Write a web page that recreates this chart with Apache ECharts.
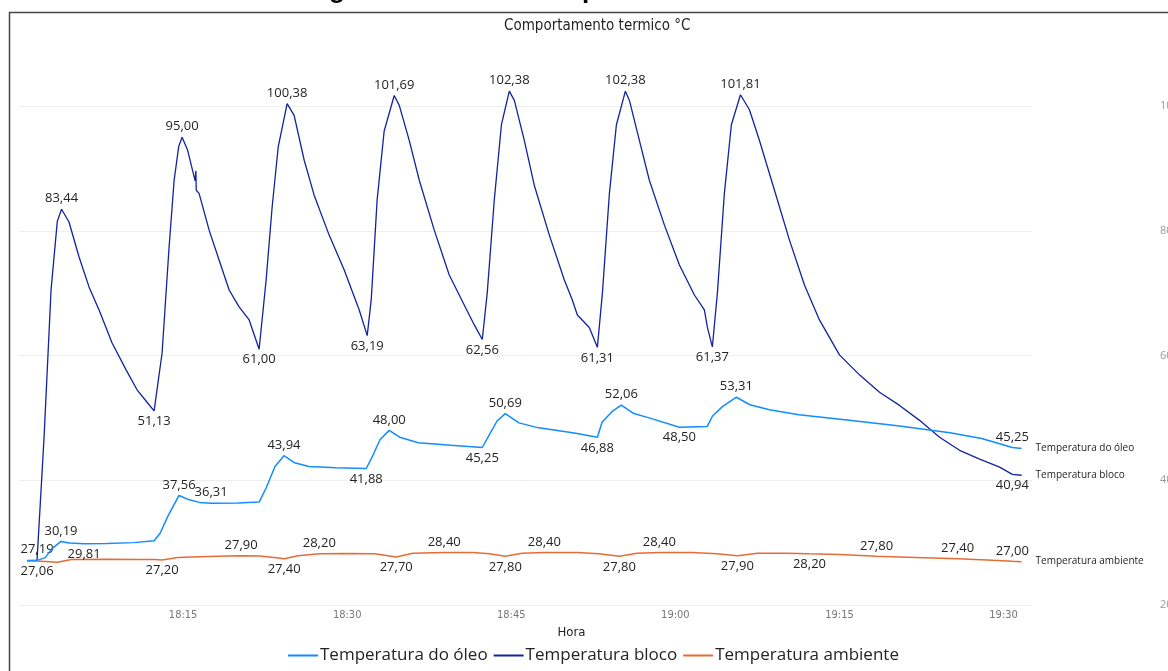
<!DOCTYPE html>
<html>
<head>
<meta charset="utf-8">
<script src="https://cdn.jsdelivr.net/npm/echarts@6/dist/echarts.min.js"></script>
<style>
html,body{margin:0;padding:0;background:#fff;overflow:hidden;}
#chart{width:1168px;height:671px;}
</style>
</head>
<body>
<div id="chart"></div>
<script>
// minutes after 18:00
const xTicks = ['18:15','18:30','18:45','19:00','19:15','19:30'];

const seriesNames = ['Temperatura do óleo', 'Temperatura bloco', 'Temperatura ambiente'];

const oleoTime  = [0.73,1.65,2.4,3.0,3.84,4.6,5.95,8.0,10.5,12.35,12.9,13.6,14.63,15.5,16.5,17.56,20.0,21.95,22.6,23.4,24.22,25.2,26.5,29.0,31.74,32.3,33.0,33.84,34.8,36.5,39.5,42.35,43.0,43.7,44.45,45.7,47.5,50.3,51.0,52.87,53.3,54.2,55.06,56.2,57.6,60.37,62.9,63.4,64.3,65.58,66.8,68.6,71.3,75.9,80.5,85.1,88.0,90.8,91.65];
const oleoValue = [27.1,27.15,27.6,29.0,30.19,29.95,29.81,29.85,30.0,30.3,31.5,34.2,37.56,36.9,36.45,36.31,36.35,36.5,38.8,42.2,43.94,42.8,42.2,42.0,41.88,43.8,46.5,48.00,46.9,46.0,45.6,45.25,47.3,49.5,50.69,49.2,48.4,47.7,47.5,46.88,49.3,51.0,52.06,50.7,50.0,48.50,48.6,50.3,51.8,53.31,52.1,51.3,50.5,49.6,48.7,47.6,46.7,45.25,45.1];
const oleoLabelTop    = [3.84,14.63,17.56,24.22,33.84,44.45,55.06,65.58,90.8];
const oleoLabelBottom = [5.95,31.74,42.35,52.87,60.37];

const blocoTime  = [0.73,1.65,2.29,2.93,3.5,3.89,4.57,5.49,6.40,7.32,8.51,9.79,10.79,11.8,12.35,13.08,13.72,14.18,14.6,14.91,15.4,16.1,16.17,16.2,16.46,17.38,18.29,19.21,20.12,21.04,21.95,22.59,23.14,23.7,24.51,25.15,26.07,26.98,28.35,29.73,31.1,31.83,32.2,32.74,33.38,34.3,34.76,35.67,36.59,37.96,39.33,40.7,41.62,42.35,42.8,43.45,44.1,44.82,45.28,46.19,47.1,48.48,49.85,50.58,51.04,52.13,52.87,53.33,53.97,54.61,55.43,55.8,56.71,57.62,59.0,60.37,61.74,62.65,62.93,63.38,63.84,64.48,65.12,65.95,66.77,67.68,69.06,70.43,71.8,73.17,75.0,76.83,78.66,80.49,82.32,84.15,85.98,87.81,89.64,90.8,91.65];
const blocoValue = [27.1,27.19,46.8,70.5,81.5,83.44,81.4,75.8,71.0,67.3,62.0,57.7,54.5,52.3,51.13,60.4,77.4,88.1,93.5,95.00,93.0,88.0,89.6,86.5,86.0,80.1,75.3,70.5,67.8,65.7,61.00,72.1,83.8,93.5,100.38,98.5,91.3,85.7,79.3,73.7,67.3,63.19,69.0,85.0,96.0,101.69,100.1,94.5,88.1,80.1,72.9,68.1,64.9,62.56,70.0,85.0,97.0,102.38,100.9,94.5,87.3,79.3,72.1,68.9,66.5,64.5,61.31,70.0,86.0,97.0,102.38,100.9,94.5,88.1,80.9,74.5,69.7,67.3,64.5,61.37,70.0,86.0,97.0,101.81,99.4,94.5,86.5,78.5,71.3,65.7,60.1,56.9,54.1,52.0,49.6,46.9,44.8,43.4,42.1,40.94,40.8];
const blocoLabelTop    = [1.65,3.89,14.91,24.51,34.3,44.82,55.43,65.95];
const blocoLabelBottom = [12.35,21.95,31.83,42.35,52.87,63.38,90.8];

const ambTime  = [0.73,1.65,3.5,4.8,8.0,11.0,12.4,13.08,14.5,16.5,19.0,20.3,22.0,23.3,24.24,25.5,27.45,30.0,32.5,34.48,36.0,38.87,41.5,43.0,44.45,46.0,48.02,51.0,53.0,54.88,56.5,58.54,61.5,63.8,65.67,67.5,70.0,72.26,75.0,78.39,82.0,85.8,88.5,90.8,91.65];
const ambValue = [27.15,27.06,26.85,27.3,27.35,27.3,27.3,27.20,27.6,27.75,27.85,27.90,27.85,27.6,27.40,27.9,28.20,28.25,28.2,27.70,28.3,28.40,28.4,28.2,27.80,28.3,28.40,28.4,28.2,27.80,28.3,28.40,28.4,28.2,27.90,28.3,28.3,28.20,28.1,27.80,27.6,27.40,27.2,27.00,26.95];
const ambLabelTop    = [20.3,27.45,38.87,48.02,58.54,78.39,85.8,90.8];
const ambLabelBottom = [1.65,13.08,24.24,34.48,44.45,54.88,65.67,72.26];

const yMin = 20, yMax = 100, yInterval = 20;

function fmt(v){ return v.toFixed(2).replace('.', ','); }
function build(times, values, top, bottom){
  return times.map((t,i)=>{
    const item = {value:[t, values[i]]};
    if (top.indexOf(t) >= 0) item.label = {show:true, position:'top'};
    else if (bottom.indexOf(t) >= 0) item.label = {show:true, position:'bottom'};
    return item;
  });
}
function tickLabel(v){
  const total = 18*60 + Math.round(v);
  const h = Math.floor(total/60), m = total%60;
  return h + ':' + (m<10?'0':'') + m;
}

const FONT = '"Open Sans", "Noto Sans", sans-serif';
const COND = '"DejaVu Sans Condensed", Roboto, sans-serif';
const labelCfg = {show:false, formatter: p => fmt(p.value[1]), color:'#252423', fontSize:13, fontFamily:FONT, distance:4};
const endLabelCfg = {show:true, formatter:'{a}', color:'#252423', fontSize:10, fontFamily:FONT, distance:14};

const chart = echarts.init(document.getElementById('chart'), null, {renderer:'canvas'});
chart.setOption({
  animation:false,
  color:['#118DFF','#12239E','#E66C37'],
  title:[
    {text:'Figura 36 - Análise de partidas de 90 a 100 PSI', left:301, top:-27,
     textStyle:{fontSize:26, fontWeight:'bold', color:'#000', fontFamily:'"Liberation Sans", Arial, sans-serif'}},
    {text:'Comportamento termico °C', left:499, top:14,
     textStyle:{fontSize:15, fontWeight:'normal', color:'#252423', fontFamily:COND}}
  ],
  graphic:[{type:'rect', shape:{x:9.5, y:12.5, width:1300, height:800}, style:{fill:'none', stroke:'#444', lineWidth:1.5}, silent:true}],
  legend:{
    data:seriesNames, bottom:2, left:283, icon:'rect', itemWidth:30, itemHeight:2, itemGap:6,
    textStyle:{fontSize:17, color:'#252423', fontFamily:FONT, padding:[0,0,0,-3]}
  },
  grid:{left:19, right:136, top:106, bottom:66, containLabel:false, outerBoundsMode:'none'},
  xAxis:{
    type:'value', min:0, max:92.6, interval:15,
    name:'Hora', nameLocation:'middle', nameGap:20,
    nameTextStyle:{fontSize:13, color:'#252423', fontFamily:COND, padding:[0,0,0,92]},
    axisLine:{show:false}, axisTick:{show:false}, splitLine:{show:false},
    axisLabel:{formatter:tickLabel, showMinLabel:false, showMaxLabel:false, color:'#777', fontSize:11, margin:5, fontFamily:COND}
  },
  yAxis:{
    type:'value', position:'right', min:yMin, max:yMax, interval:yInterval,
    axisLine:{show:false}, axisTick:{show:false},
    splitLine:{lineStyle:{color:'#EEEEEE', width:1}},
    axisLabel:{color:'#999', fontSize:11, margin:128, fontFamily:FONT}
  },
  series:[
    {name:seriesNames[0], type:'line', clip:false, data:build(oleoTime, oleoValue, oleoLabelTop, oleoLabelBottom),
     showSymbol:true, showAllSymbol:true, symbol:'circle', symbolSize:0, lineStyle:{width:1.5}, label:labelCfg, endLabel:endLabelCfg, z:3},
    {name:seriesNames[1], type:'line', clip:false, data:build(blocoTime, blocoValue, blocoLabelTop, blocoLabelBottom),
     showSymbol:true, showAllSymbol:true, symbol:'circle', symbolSize:0, lineStyle:{width:1.3}, label:labelCfg, endLabel:endLabelCfg, z:2},
    {name:seriesNames[2], type:'line', clip:false, data:build(ambTime, ambValue, ambLabelTop, ambLabelBottom),
     showSymbol:true, showAllSymbol:true, symbol:'circle', symbolSize:0, lineStyle:{width:1.5}, label:labelCfg, endLabel:endLabelCfg, z:1}
  ]
});
</script>
</body>
</html>
